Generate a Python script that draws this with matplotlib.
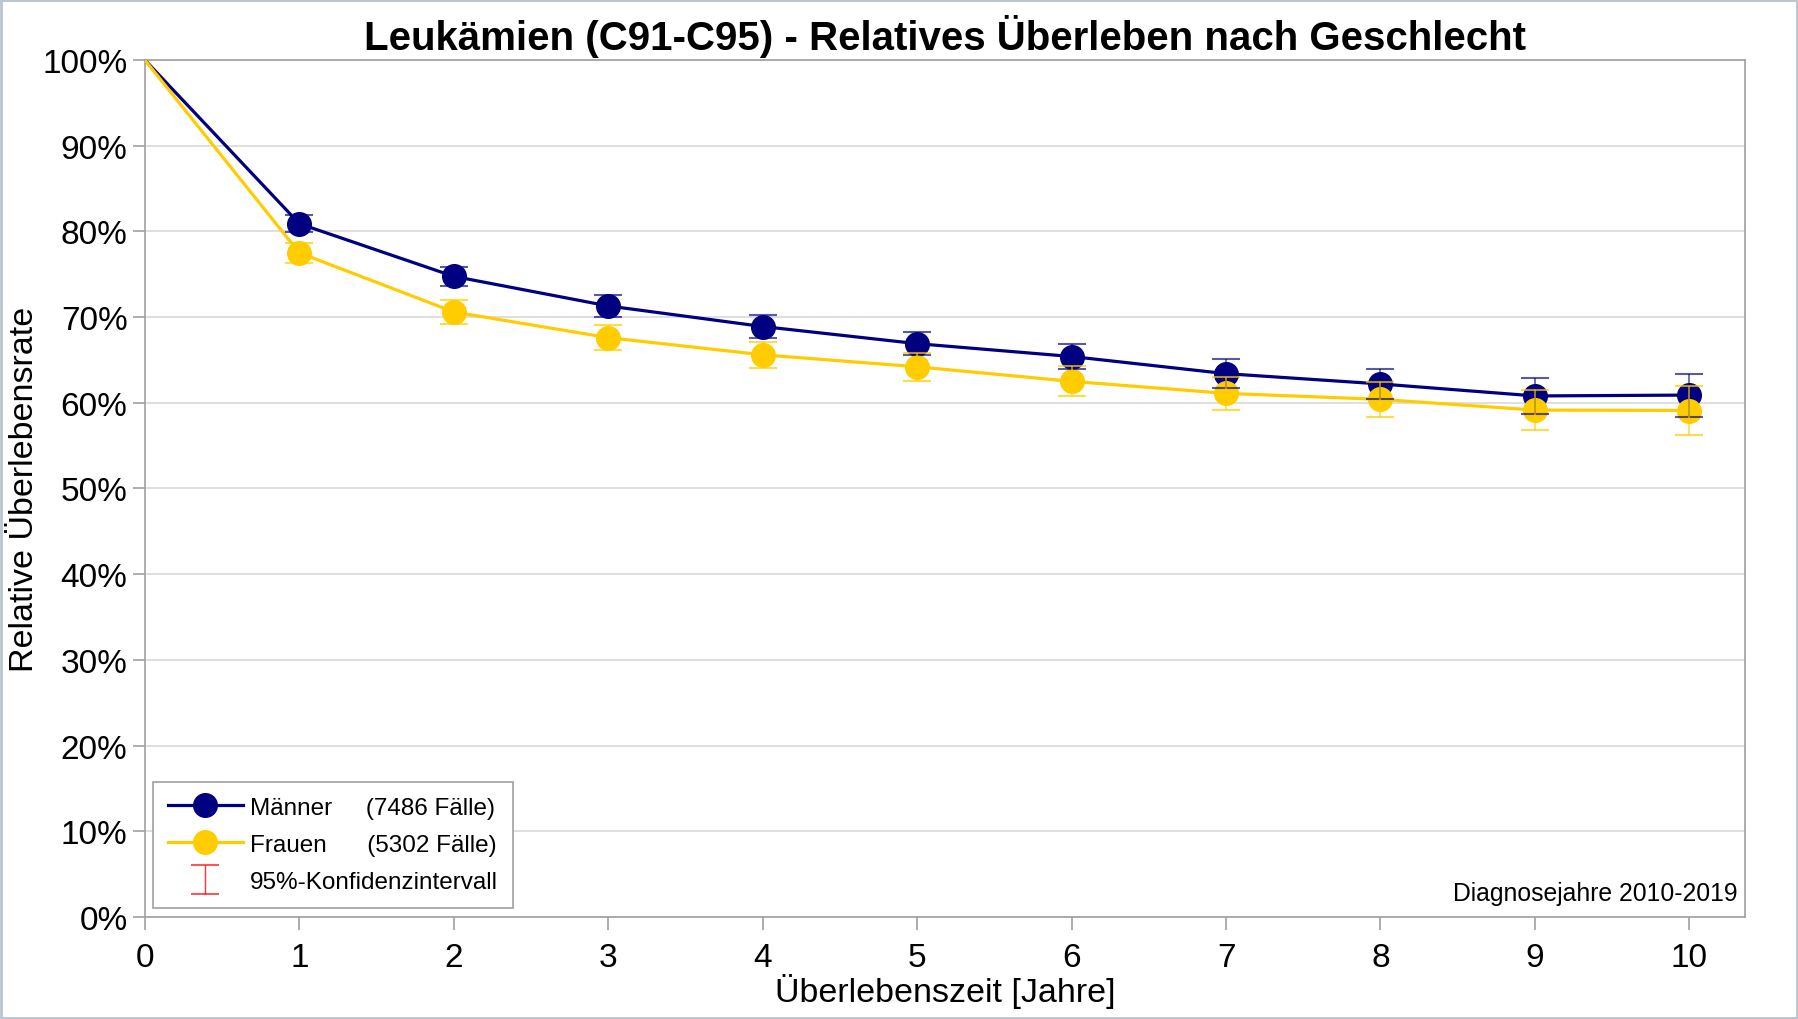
import matplotlib
matplotlib.use("Agg")
import matplotlib.pyplot as plt
from matplotlib.patches import Rectangle
from matplotlib.legend_handler import HandlerErrorbar

plt.rcParams['font.family'] = ['Liberation Sans', 'DejaVu Sans']

# survival data (relative survival, %)
years = [0, 1, 2, 3, 4, 5, 6, 7, 8, 9, 10]
maenner = [100, 80.9, 74.75, 71.3, 68.9, 66.9, 65.4, 63.4, 62.2, 60.8, 60.9]
frauen = [100, 77.5, 70.6, 67.6, 65.6, 64.2, 62.5, 61.1, 60.4, 59.15, 59.1]
# 95% confidence half-widths for years 1..10
maenner_ci = [1.0, 1.1, 1.25, 1.34, 1.36, 1.5, 1.67, 1.79, 2.1, 2.5]
frauen_ci = [1.17, 1.35, 1.47, 1.54, 1.6, 1.75, 1.9, 2.04, 2.3, 2.85]

label_m = 'Männer     (7486 Fälle)'
label_f = 'Frauen      (5302 Fälle)'
label_ci = '95%-Konfidenzintervall'

navy = '#000080'
gold = '#FFCC00'

fig = plt.figure(figsize=(17.98, 10.2), dpi=100)
ax = fig.add_axes([0.0806, 0.1, 0.8899, 0.8402])

ax.plot(years, maenner, color=navy, lw=2.3, zorder=3)
ax.plot(years, frauen, color=gold, lw=2.3, zorder=3)
ax.plot(years[1:], maenner[1:], 'o', color=navy, ms=17, zorder=4)
ax.plot(years[1:], frauen[1:], 'o', color=gold, ms=17, zorder=4)

ax.errorbar(years[1:], maenner[1:], yerr=maenner_ci, fmt='none', ecolor=navy,
            elinewidth=1.2, capsize=10, capthick=1.5, alpha=0.65, zorder=5)
ax.errorbar(years[1:], frauen[1:], yerr=frauen_ci, fmt='none', ecolor=gold,
            elinewidth=1.2, capsize=10, capthick=1.5, alpha=0.7, zorder=5)

# legend handles (drawn outside the visible range)
hm, = ax.plot([-5], [50], '-o', color=navy, lw=2.3, ms=17)
hf, = ax.plot([-5], [50], '-o', color=gold, lw=2.3, ms=17)
hci = ax.errorbar([-5], [50], yerr=[1], fmt='none', ecolor='red', elinewidth=1,
                  capsize=10, capthick=1.2, alpha=0.8)
leg = ax.legend([hm, hf, hci], [label_m, label_f, label_ci],
                loc='lower left', bbox_to_anchor=(0.005, 0.011),
                borderaxespad=0, fontsize=17.5, handlelength=3.1,
                fancybox=False, framealpha=1, edgecolor='#a0a0a0',
                borderpad=0.6, labelspacing=0.62, handletextpad=0.3,
                handler_map={hci: HandlerErrorbar(yerr_size=0.6)})
leg.get_frame().set_linewidth(1.2)

ax.set_xlim(0, 10.36)
ax.set_ylim(0, 100)
ax.set_xticks(range(0, 11))
ax.set_yticks(range(0, 101, 10))
ax.set_yticklabels([f'{v}%' for v in range(0, 101, 10)])
ax.tick_params(labelsize=24, length=9, color='#a0a0a0', width=1.2)
ax.tick_params(axis='x', pad=9)
ax.yaxis.grid(True, color='#d9d9d9', lw=1.2)
ax.set_axisbelow(True)
for s in ax.spines.values():
    s.set_color('#a0a0a0')
    s.set_linewidth(1.2)

ax.set_xlabel('Überlebenszeit [Jahre]', fontsize=24.5, labelpad=0)
ax.set_ylabel('Relative Überlebensrate', fontsize=24.5, labelpad=2)
ax.set_title('Leukämien (C91-C95) - Relatives Überleben nach Geschlecht',
             fontsize=29, fontweight='bold', pad=8)

ax.text(0.9955, 0.014, 'Diagnosejahre 2010-2019', transform=ax.transAxes,
        ha='right', va='bottom', fontsize=17.8)

# thin figure border
fig.patches.append(Rectangle((0.0005, 0.0005), 0.999, 0.999, transform=fig.transFigure,
                             fill=False, edgecolor='#b8c4d0', lw=2))

fig.savefig('out.png', dpi=100)
